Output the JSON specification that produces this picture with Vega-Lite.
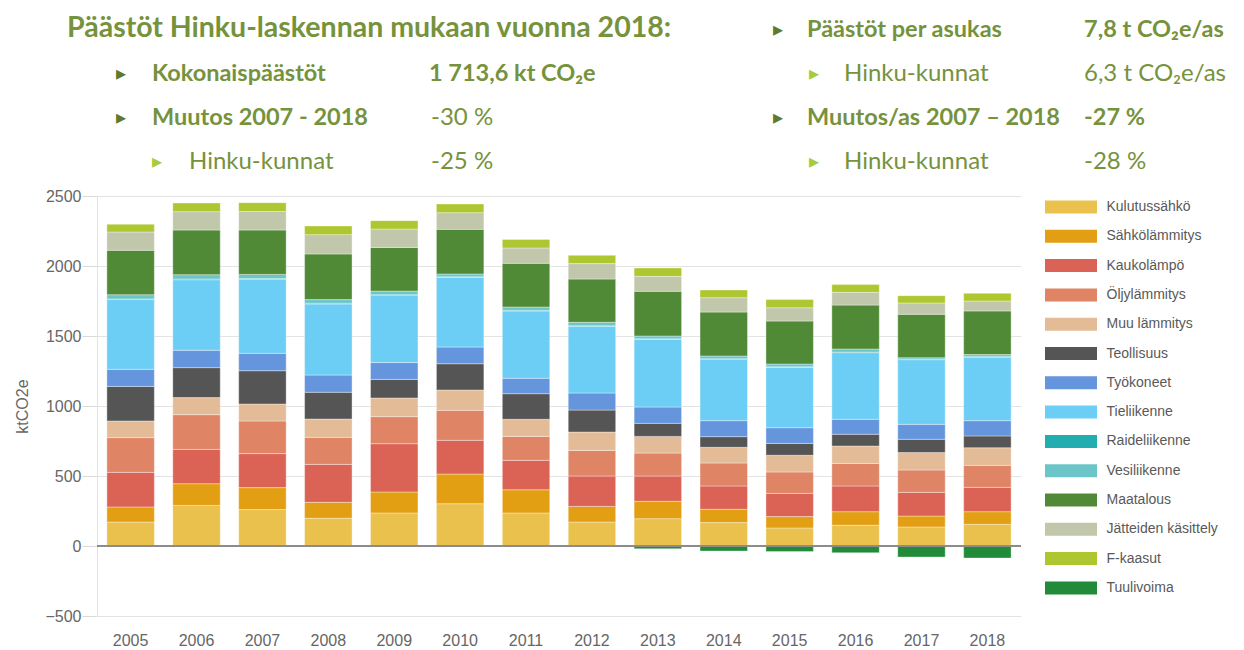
{
  "$schema": "https://vega.github.io/schema/vega-lite/v6.json",
  "padding": {"left": 14, "top": 0, "right": 0, "bottom": 0},
  "background": "white",
  "spacing": 12,
  "resolve": {"legend": {"color": "independent"}},
  "config": {"view": {"stroke": null}, "font": "Liberation Sans"},
  "vconcat": [
    {
      "width": 924,
      "height": 176,
      "data": {"values": [
        {"k": "title", "x": 68, "r": 1, "t": "Päästöt Hinku-laskennan mukaan vuonna 2018:"},
        {"k": "b1", "x": 122, "r": 2, "t": "▸"},
        {"k": "b1", "x": 122, "r": 3, "t": "▸"},
        {"k": "b1", "x": 779, "r": 1, "t": "▸"},
        {"k": "b1", "x": 779, "r": 3, "t": "▸"},
        {"k": "b2", "x": 158, "r": 4, "t": "▸"},
        {"k": "b2", "x": 815, "r": 2, "t": "▸"},
        {"k": "b2", "x": 815, "r": 4, "t": "▸"},
        {"k": "bold", "x": 153, "r": 2, "t": "Kokonaispäästöt"},
        {"k": "bold", "x": 153, "r": 3, "t": "Muutos 2007 - 2018"},
        {"k": "bold", "x": 808, "r": 1, "t": "Päästöt per asukas"},
        {"k": "bold", "x": 808, "r": 3, "t": "Muutos/as 2007 – 2018"},
        {"k": "bold", "x": 430, "r": 2, "t": "1 713,6 kt CO₂e"},
        {"k": "bold", "x": 1085, "r": 1, "t": "7,8 t CO₂e/as"},
        {"k": "bold", "x": 1085, "r": 3, "t": "-27 %"},
        {"k": "reg", "x": 432, "r": 3, "t": "-30 %"},
        {"k": "reg", "x": 190, "r": 4, "t": "Hinku-kunnat"},
        {"k": "reg", "x": 432, "r": 4, "t": "-25 %"},
        {"k": "reg", "x": 845, "r": 2, "t": "Hinku-kunnat"},
        {"k": "reg", "x": 1085, "r": 2, "t": "6,3 t CO₂e/as"},
        {"k": "reg", "x": 845, "r": 4, "t": "Hinku-kunnat"},
        {"k": "reg", "x": 1085, "r": 4, "t": "-28 %"}
      ]},
      "encoding": {
        "x": {"field": "x", "type": "quantitative", "scale": {"domain": [98, 1022], "zero": false}, "axis": null},
        "y": {"field": "r", "type": "quantitative", "scale": {"domain": [0.318, 4.318], "reverse": true, "zero": false}, "axis": null},
        "text": {"field": "t"}
      },
      "layer": [
        {"transform": [{"filter": "datum.k == 'title'"}], "mark": {"type": "text", "align": "left", "baseline": "middle", "font": "Lato", "fontSize": 28.5, "fontWeight": "bold", "color": "#76923C", "dy": -2}},
        {"transform": [{"filter": "datum.k == 'b1'"}], "mark": {"type": "text", "align": "center", "baseline": "middle", "fontSize": 20, "color": "#5E7A2E"}},
        {"transform": [{"filter": "datum.k == 'b2'"}], "mark": {"type": "text", "align": "center", "baseline": "middle", "fontSize": 20, "color": "#A6CC3A"}},
        {"transform": [{"filter": "datum.k == 'bold'"}], "mark": {"type": "text", "align": "left", "baseline": "middle", "font": "Lato", "fontSize": 23.5, "fontWeight": "bold", "color": "#76923C"}},
        {"transform": [{"filter": "datum.k == 'reg'"}], "mark": {"type": "text", "align": "left", "baseline": "middle", "font": "Lato", "fontSize": 24, "color": "#76923C"}}
      ]
    },
    {
      "width": 924,
      "height": 420,
      "data": {"values": [
        {"y":"2005","c":"Kulutussähkö","o":1,"v":171},{"y":"2005","c":"Sähkölämmitys","o":2,"v":108},{"y":"2005","c":"Kaukolämpö","o":3,"v":247},{"y":"2005","c":"Öljylämmitys","o":4,"v":248},{"y":"2005","c":"Muu lämmitys","o":5,"v":119},{"y":"2005","c":"Teollisuus","o":6,"v":247},{"y":"2005","c":"Työkoneet","o":7,"v":122},{"y":"2005","c":"Tieliikenne","o":8,"v":498},{"y":"2005","c":"Raideliikenne","o":9,"v":5},{"y":"2005","c":"Vesiliikenne","o":10,"v":30},{"y":"2005","c":"Maatalous","o":11,"v":317},{"y":"2005","c":"Jätteiden käsittely","o":12,"v":131},{"y":"2005","c":"F-kaasut","o":13,"v":55},
        {"y":"2006","c":"Kulutussähkö","o":1,"v":290},{"y":"2006","c":"Sähkölämmitys","o":2,"v":155},{"y":"2006","c":"Kaukolämpö","o":3,"v":245},{"y":"2006","c":"Öljylämmitys","o":4,"v":248},{"y":"2006","c":"Muu lämmitys","o":5,"v":122},{"y":"2006","c":"Teollisuus","o":6,"v":214},{"y":"2006","c":"Työkoneet","o":7,"v":124},{"y":"2006","c":"Tieliikenne","o":8,"v":504},{"y":"2006","c":"Raideliikenne","o":9,"v":5},{"y":"2006","c":"Vesiliikenne","o":10,"v":31},{"y":"2006","c":"Maatalous","o":11,"v":319},{"y":"2006","c":"Jätteiden käsittely","o":12,"v":131},{"y":"2006","c":"F-kaasut","o":13,"v":62},
        {"y":"2007","c":"Kulutussähkö","o":1,"v":260},{"y":"2007","c":"Sähkölämmitys","o":2,"v":157},{"y":"2007","c":"Kaukolämpö","o":3,"v":243},{"y":"2007","c":"Öljylämmitys","o":4,"v":233},{"y":"2007","c":"Muu lämmitys","o":5,"v":121},{"y":"2007","c":"Teollisuus","o":6,"v":238},{"y":"2007","c":"Työkoneet","o":7,"v":124},{"y":"2007","c":"Tieliikenne","o":8,"v":529},{"y":"2007","c":"Raideliikenne","o":9,"v":5},{"y":"2007","c":"Vesiliikenne","o":10,"v":30},{"y":"2007","c":"Maatalous","o":11,"v":317},{"y":"2007","c":"Jätteiden käsittely","o":12,"v":133},{"y":"2007","c":"F-kaasut","o":13,"v":62},
        {"y":"2008","c":"Kulutussähkö","o":1,"v":198},{"y":"2008","c":"Sähkölämmitys","o":2,"v":114},{"y":"2008","c":"Kaukolämpö","o":3,"v":271},{"y":"2008","c":"Öljylämmitys","o":4,"v":193},{"y":"2008","c":"Muu lämmitys","o":5,"v":131},{"y":"2008","c":"Teollisuus","o":6,"v":191},{"y":"2008","c":"Työkoneet","o":7,"v":123},{"y":"2008","c":"Tieliikenne","o":8,"v":508},{"y":"2008","c":"Raideliikenne","o":9,"v":5},{"y":"2008","c":"Vesiliikenne","o":10,"v":26},{"y":"2008","c":"Maatalous","o":11,"v":326},{"y":"2008","c":"Jätteiden käsittely","o":12,"v":138},{"y":"2008","c":"F-kaasut","o":13,"v":62},
        {"y":"2009","c":"Kulutussähkö","o":1,"v":236},{"y":"2009","c":"Sähkölämmitys","o":2,"v":150},{"y":"2009","c":"Kaukolämpö","o":3,"v":345},{"y":"2009","c":"Öljylämmitys","o":4,"v":193},{"y":"2009","c":"Muu lämmitys","o":5,"v":133},{"y":"2009","c":"Teollisuus","o":6,"v":133},{"y":"2009","c":"Työkoneet","o":7,"v":120},{"y":"2009","c":"Tieliikenne","o":8,"v":480},{"y":"2009","c":"Raideliikenne","o":9,"v":5},{"y":"2009","c":"Vesiliikenne","o":10,"v":26},{"y":"2009","c":"Maatalous","o":11,"v":312},{"y":"2009","c":"Jätteiden käsittely","o":12,"v":131},{"y":"2009","c":"F-kaasut","o":13,"v":60},
        {"y":"2010","c":"Kulutussähkö","o":1,"v":302},{"y":"2010","c":"Sähkölämmitys","o":2,"v":212},{"y":"2010","c":"Kaukolämpö","o":3,"v":241},{"y":"2010","c":"Öljylämmitys","o":4,"v":214},{"y":"2010","c":"Muu lämmitys","o":5,"v":145},{"y":"2010","c":"Teollisuus","o":6,"v":188},{"y":"2010","c":"Työkoneet","o":7,"v":119},{"y":"2010","c":"Tieliikenne","o":8,"v":498},{"y":"2010","c":"Raideliikenne","o":9,"v":4},{"y":"2010","c":"Vesiliikenne","o":10,"v":20},{"y":"2010","c":"Maatalous","o":11,"v":319},{"y":"2010","c":"Jätteiden käsittely","o":12,"v":119},{"y":"2010","c":"F-kaasut","o":13,"v":62},
        {"y":"2011","c":"Kulutussähkö","o":1,"v":236},{"y":"2011","c":"Sähkölämmitys","o":2,"v":166},{"y":"2011","c":"Kaukolämpö","o":3,"v":210},{"y":"2011","c":"Öljylämmitys","o":4,"v":171},{"y":"2011","c":"Muu lämmitys","o":5,"v":122},{"y":"2011","c":"Teollisuus","o":6,"v":183},{"y":"2011","c":"Työkoneet","o":7,"v":110},{"y":"2011","c":"Tieliikenne","o":8,"v":481},{"y":"2011","c":"Raideliikenne","o":9,"v":4},{"y":"2011","c":"Vesiliikenne","o":10,"v":24},{"y":"2011","c":"Maatalous","o":11,"v":312},{"y":"2011","c":"Jätteiden käsittely","o":12,"v":110},{"y":"2011","c":"F-kaasut","o":13,"v":61},
        {"y":"2012","c":"Kulutussähkö","o":1,"v":171},{"y":"2012","c":"Sähkölämmitys","o":2,"v":112},{"y":"2012","c":"Kaukolämpö","o":3,"v":217},{"y":"2012","c":"Öljylämmitys","o":4,"v":183},{"y":"2012","c":"Muu lämmitys","o":5,"v":131},{"y":"2012","c":"Teollisuus","o":6,"v":157},{"y":"2012","c":"Työkoneet","o":7,"v":122},{"y":"2012","c":"Tieliikenne","o":8,"v":476},{"y":"2012","c":"Raideliikenne","o":9,"v":4},{"y":"2012","c":"Vesiliikenne","o":10,"v":25},{"y":"2012","c":"Maatalous","o":11,"v":309},{"y":"2012","c":"Jätteiden käsittely","o":12,"v":110},{"y":"2012","c":"F-kaasut","o":13,"v":59},
        {"y":"2013","c":"Kulutussähkö","o":1,"v":195},{"y":"2013","c":"Sähkölämmitys","o":2,"v":124},{"y":"2013","c":"Kaukolämpö","o":3,"v":181},{"y":"2013","c":"Öljylämmitys","o":4,"v":164},{"y":"2013","c":"Muu lämmitys","o":5,"v":119},{"y":"2013","c":"Teollisuus","o":6,"v":93},{"y":"2013","c":"Työkoneet","o":7,"v":117},{"y":"2013","c":"Tieliikenne","o":8,"v":483},{"y":"2013","c":"Raideliikenne","o":9,"v":4},{"y":"2013","c":"Vesiliikenne","o":10,"v":20},{"y":"2013","c":"Maatalous","o":11,"v":319},{"y":"2013","c":"Jätteiden käsittely","o":12,"v":107},{"y":"2013","c":"F-kaasut","o":13,"v":60},{"y":"2013","c":"Tuulivoima","o":14,"v":-19},
        {"y":"2014","c":"Kulutussähkö","o":1,"v":167},{"y":"2014","c":"Sähkölämmitys","o":2,"v":95},{"y":"2014","c":"Kaukolämpö","o":3,"v":167},{"y":"2014","c":"Öljylämmitys","o":4,"v":164},{"y":"2014","c":"Muu lämmitys","o":5,"v":112},{"y":"2014","c":"Teollisuus","o":6,"v":76},{"y":"2014","c":"Työkoneet","o":7,"v":114},{"y":"2014","c":"Tieliikenne","o":8,"v":438},{"y":"2014","c":"Raideliikenne","o":9,"v":4},{"y":"2014","c":"Vesiliikenne","o":10,"v":20},{"y":"2014","c":"Maatalous","o":11,"v":314},{"y":"2014","c":"Jätteiden käsittely","o":12,"v":103},{"y":"2014","c":"F-kaasut","o":13,"v":55},{"y":"2014","c":"Tuulivoima","o":14,"v":-36},
        {"y":"2015","c":"Kulutussähkö","o":1,"v":129},{"y":"2015","c":"Sähkölämmitys","o":2,"v":81},{"y":"2015","c":"Kaukolämpö","o":3,"v":166},{"y":"2015","c":"Öljylämmitys","o":4,"v":153},{"y":"2015","c":"Muu lämmitys","o":5,"v":119},{"y":"2015","c":"Teollisuus","o":6,"v":85},{"y":"2015","c":"Työkoneet","o":7,"v":112},{"y":"2015","c":"Tieliikenne","o":8,"v":431},{"y":"2015","c":"Raideliikenne","o":9,"v":4},{"y":"2015","c":"Vesiliikenne","o":10,"v":20},{"y":"2015","c":"Maatalous","o":11,"v":307},{"y":"2015","c":"Jätteiden käsittely","o":12,"v":95},{"y":"2015","c":"F-kaasut","o":13,"v":58},{"y":"2015","c":"Tuulivoima","o":14,"v":-40},
        {"y":"2016","c":"Kulutussähkö","o":1,"v":148},{"y":"2016","c":"Sähkölämmitys","o":2,"v":97},{"y":"2016","c":"Kaukolämpö","o":3,"v":184},{"y":"2016","c":"Öljylämmitys","o":4,"v":161},{"y":"2016","c":"Muu lämmitys","o":5,"v":124},{"y":"2016","c":"Teollisuus","o":6,"v":84},{"y":"2016","c":"Työkoneet","o":7,"v":107},{"y":"2016","c":"Tieliikenne","o":8,"v":476},{"y":"2016","c":"Raideliikenne","o":9,"v":4},{"y":"2016","c":"Vesiliikenne","o":10,"v":22},{"y":"2016","c":"Maatalous","o":11,"v":314},{"y":"2016","c":"Jätteiden käsittely","o":12,"v":91},{"y":"2016","c":"F-kaasut","o":13,"v":55},{"y":"2016","c":"Tuulivoima","o":14,"v":-48},
        {"y":"2017","c":"Kulutussähkö","o":1,"v":136},{"y":"2017","c":"Sähkölämmitys","o":2,"v":78},{"y":"2017","c":"Kaukolämpö","o":3,"v":169},{"y":"2017","c":"Öljylämmitys","o":4,"v":160},{"y":"2017","c":"Muu lämmitys","o":5,"v":124},{"y":"2017","c":"Teollisuus","o":6,"v":95},{"y":"2017","c":"Työkoneet","o":7,"v":107},{"y":"2017","c":"Tieliikenne","o":8,"v":462},{"y":"2017","c":"Raideliikenne","o":9,"v":4},{"y":"2017","c":"Vesiliikenne","o":10,"v":10},{"y":"2017","c":"Maatalous","o":11,"v":310},{"y":"2017","c":"Jätteiden käsittely","o":12,"v":81},{"y":"2017","c":"F-kaasut","o":13,"v":52},{"y":"2017","c":"Tuulivoima","o":14,"v":-79},
        {"y":"2018","c":"Kulutussähkö","o":1,"v":155},{"y":"2018","c":"Sähkölämmitys","o":2,"v":90},{"y":"2018","c":"Kaukolämpö","o":3,"v":174},{"y":"2018","c":"Öljylämmitys","o":4,"v":157},{"y":"2018","c":"Muu lämmitys","o":5,"v":126},{"y":"2018","c":"Teollisuus","o":6,"v":84},{"y":"2018","c":"Työkoneet","o":7,"v":109},{"y":"2018","c":"Tieliikenne","o":8,"v":453},{"y":"2018","c":"Raideliikenne","o":9,"v":4},{"y":"2018","c":"Vesiliikenne","o":10,"v":15},{"y":"2018","c":"Maatalous","o":11,"v":312},{"y":"2018","c":"Jätteiden käsittely","o":12,"v":71},{"y":"2018","c":"F-kaasut","o":13,"v":55},{"y":"2018","c":"Tuulivoima","o":14,"v":-86}
      ]},
      "layer": [
        {
          "mark": {"type": "bar", "stroke": "#ffffff", "strokeWidth": 0.6, "strokeOpacity": 0.6},
          "encoding": {
            "x": {"field": "y", "type": "ordinal", "title": null,
                  "scale": {"paddingInner": 0.28, "paddingOuter": 0.15},
                  "axis": {"labelAngle": 0, "labelFontSize": 16, "labelColor": "#666666", "labelPadding": 16, "ticks": false, "domain": false}},
            "y": {"field": "v", "type": "quantitative", "stack": "zero", "title": "ktCO2e",
                  "scale": {"domain": [-500, 2500], "nice": false, "zero": false},
                  "axis": {"values": [-500, 0, 500, 1000, 1500, 2000, 2500], "format": "d", "labelFontSize": 16, "labelColor": "#666666", "labelFlush": false,
                           "tickSize": 15, "tickColor": "#d9d9d9", "gridColor": "#e3e3e3", "domainColor": "#e3e3e3",
                           "labelPadding": 1, "titleFontSize": 16, "titleFontWeight": "normal", "titleColor": "#666666", "titlePadding": 14}},
            "color": {"field": "c", "type": "nominal",
                      "scale": {"domain": ["Kulutussähkö", "Sähkölämmitys", "Kaukolämpö", "Öljylämmitys", "Muu lämmitys", "Teollisuus", "Työkoneet", "Tieliikenne", "Raideliikenne", "Vesiliikenne", "Maatalous", "Jätteiden käsittely", "F-kaasut", "Tuulivoima"],
                                "range": ["#EAC14D", "#E39F14", "#DB6356", "#DF8465", "#E3BB96", "#555555", "#6495DD", "#6DCEF5", "#22AEAE", "#6CC5C8", "#518A36", "#C0C7AA", "#AEC62F", "#218B3A"]},
                      "legend": {"title": null, "orient": "right", "offset": 38.5, "padding": 4,
                                 "symbolType": "M-4,-1H4V1H-4Z", "symbolSize": 169, "symbolStrokeWidth": 0,
                                 "labelFontSize": 14, "labelColor": "#595959", "labelOffset": 28.5, "rowPadding": 15.3, "labelLimit": 250}},
            "order": {"field": "o", "type": "quantitative"}
          }
        },
        {
          "mark": {"type": "rule", "color": "#8c8c8c", "strokeWidth": 2},
          "encoding": {"y": {"datum": 0}}
        }
      ]
    }
  ]
}
